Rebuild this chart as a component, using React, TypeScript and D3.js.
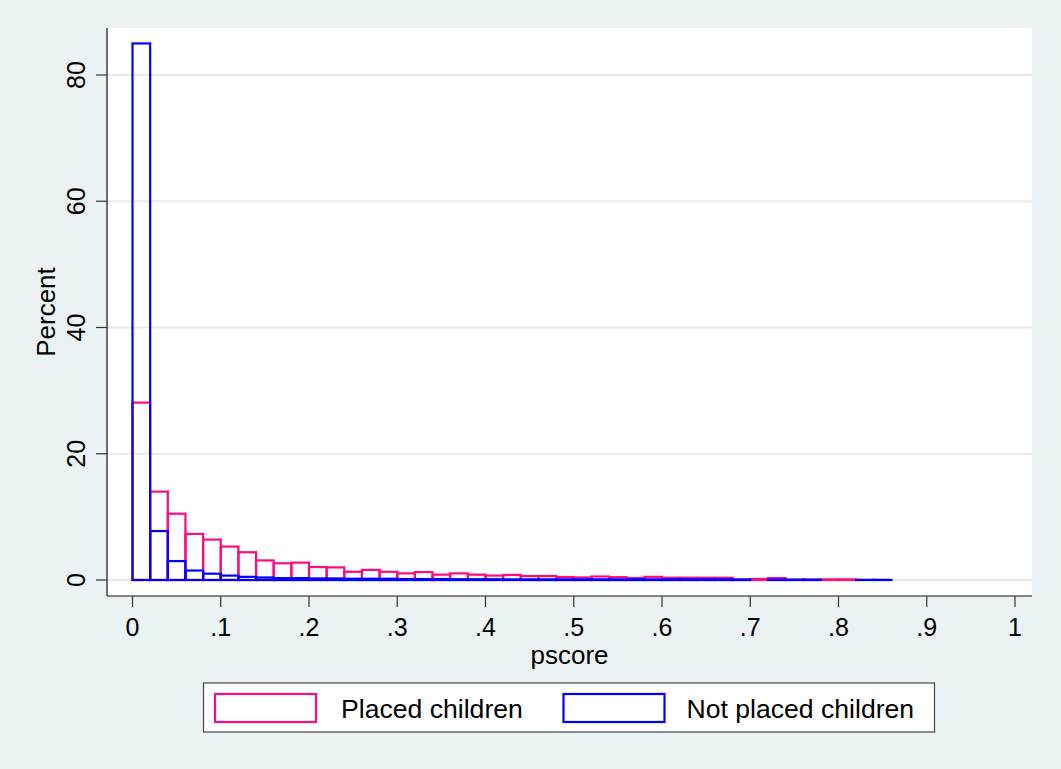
import React from 'react'
import * as d3 from 'd3'

// histogram bins of width .02 starting at 0 (percent of each group)
const binStarts = d3.range(0, 43).map((i) => +(i * 0.02).toFixed(2))

const placedPct: (number | null)[] = [
  28.1, 14.0, 10.5, 7.3, 6.4, 5.3, 4.4, 3.1, 2.65, 2.75,
  2.05, 2.0, 1.3, 1.6, 1.3, 1.05, 1.25, 0.85, 1.05, 0.85,
  0.7, 0.8, 0.63, 0.63, 0.47, 0.4, 0.55, 0.45, 0.3, 0.5,
  0.35, 0.35, 0.35, 0.35, 0.05, 0.15, 0.3, 0.05, 0.05, 0.1,
  0.1, null, null,
]

const notPlacedPct: (number | null)[] = [
  85.0, 7.75, 3.0, 1.5, 1.0, 0.7, 0.5, 0.4, 0.3, 0.3,
  0.25, 0.25, 0.2, 0.2, 0.2, 0.15, 0.15, 0.15, 0.12, 0.12,
  0.12, 0.1, 0.1, 0.1, 0.1, 0.1, 0.1, 0.1, 0.1, 0.1,
  0.1, 0.1, 0.1, 0.1, 0.08, null, 0.06, 0.05, 0.05, null,
  null, 0.03, 0.03,
]

const xTicks = [0, 0.1, 0.2, 0.3, 0.4, 0.5, 0.6, 0.7, 0.8, 0.9, 1]
const yTicks = [0, 20, 40, 60, 80]
const seriesNames = ['Placed children', 'Not placed children']

const binWidth = 0.02
const pink = '#ff0a80'
const blue = '#0000ff'
const bg = '#eaf2f3'
const font = '"Liberation Sans", Arial, Helvetica, sans-serif'

const fmtX = (d: number) => (d === 0 ? '0' : d === 1 ? '1' : d3.format('.1f')(d).replace(/^0/, ''))

const App = () => {
  const width = 1061
  const height = 769
  const plot = { left: 107, right: 1032, top: 28, bottom: 596 }

  const x = d3.scaleLinear().domain([0, 1]).range([132.5, 1015])
  const y = d3.scaleLinear().domain([0, 80]).range([580, 75])

  const bars = (vals: (number | null)[], color: string) =>
    vals.map((v, i) => {
      if (v === null) return null
      const x0 = x(binStarts[i])
      const x1 = x(binStarts[i] + binWidth)
      return (
        <rect
          key={i}
          x={x0}
          y={y(v)}
          width={x1 - x0}
          height={y(0) - y(v)}
          fill="none"
          stroke={color}
          strokeWidth={2.2}
        />
      )
    })

  const legendY = 683
  const legendH = 49
  const keys = [
    { name: seriesNames[0], color: pink, kx: 215, tx: 341 },
    { name: seriesNames[1], color: blue, kx: 563.5, tx: 686.5 },
  ]

  return (
    <div style={{ position: 'absolute', left: 0, top: 0 }}>
      <svg width={width} height={height} style={{ display: 'block', fontFamily: font }}>
        <rect x={0} y={0} width={width} height={height} fill={bg} />
        <rect
          x={plot.left}
          y={plot.top}
          width={plot.right - plot.left}
          height={plot.bottom - plot.top}
          fill="white"
        />

        {/* grid */}
        {yTicks.map((t) => (
          <line
            key={'g' + t}
            x1={plot.left}
            x2={plot.right}
            y1={y(t)}
            y2={y(t)}
            stroke="#e3ecef"
            strokeWidth={1.8}
          />
        ))}

        {/* bars */}
        <g>{bars(placedPct, pink)}</g>
        <g>{bars(notPlacedPct, blue)}</g>

        {/* axes */}
        <line x1={plot.left} x2={plot.left} y1={plot.top} y2={plot.bottom} stroke="#111" strokeWidth={1.2} />
        <line x1={plot.left} x2={plot.right} y1={plot.bottom} y2={plot.bottom} stroke="#111" strokeWidth={1.2} />

        {yTicks.map((t) => (
          <g key={'y' + t}>
            <line x1={plot.left - 11} x2={plot.left} y1={y(t)} y2={y(t)} stroke="#333" strokeWidth={1.2} />
            <text
              transform={`translate(85, ${y(t)}) rotate(-90)`}
              textAnchor="middle"
              fontSize={25}
              fill="#000"
            >
              {t}
            </text>
          </g>
        ))}

        {xTicks.map((t) => (
          <g key={'x' + t}>
            <line x1={x(t)} x2={x(t)} y1={plot.bottom} y2={plot.bottom + 11} stroke="#333" strokeWidth={1.2} />
            <text x={x(t)} y={636} textAnchor="middle" fontSize={25} fill="#000">
              {fmtX(t)}
            </text>
          </g>
        ))}

        <text x={(plot.left + plot.right) / 2} y={664} textAnchor="middle" fontSize={26} fill="#000">
          pscore
        </text>
        <text
          transform={`translate(55, ${(plot.top + plot.bottom) / 2}) rotate(-90)`}
          textAnchor="middle"
          fontSize={26}
          fill="#000"
        >
          Percent
        </text>

        {/* legend */}
        <rect x={203.5} y={legendY} width={731} height={legendH} fill="white" stroke="#444" strokeWidth={1.2} />
        {keys.map((k) => (
          <g key={k.name}>
            <rect x={k.kx} y={694} width={101} height={28} fill="white" stroke={k.color} strokeWidth={2.2} />
            <text x={k.tx} y={718} fontSize={26.6} fill="#000">
              {k.name}
            </text>
          </g>
        ))}
      </svg>
    </div>
  )
}

export default App
